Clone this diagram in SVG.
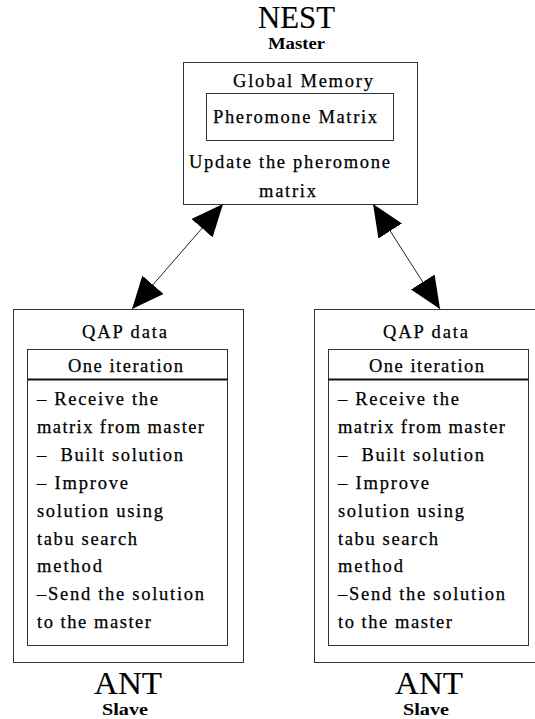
<svg xmlns="http://www.w3.org/2000/svg" width="535" height="719" viewBox="0 0 535 719">
<defs>
<style>
.box{fill:none;stroke:#333;stroke-width:1}
.hdr{stroke:#111;stroke-width:2}
.t{font-family:"Liberation Serif","Times New Roman","DejaVu Serif",serif;fill:#000;stroke:#000;stroke-width:0.25}
.b{font-size:18.5px}
.big{font-size:31px;stroke-width:0.15}
.sub{font-size:16px;font-weight:bold;stroke-width:0}
.con{stroke:#222;stroke-width:1;fill:none}
</style>
<marker id="ah" markerUnits="userSpaceOnUse" markerWidth="32" markerHeight="28" refX="32" refY="14" orient="auto-start-reverse" viewBox="0 0 32 28">
<path d="M0,0 L32,14 L0,28 z" fill="#000"/>
</marker>
</defs>
<rect width="535" height="719" fill="#fff"/>

<g id="nest">
<text class="t big" x="258" y="28" textLength="77" lengthAdjust="spacingAndGlyphs">NEST</text>
<text class="t sub" x="268" y="48.5" textLength="57" lengthAdjust="spacingAndGlyphs">Master</text>
<rect class="box" x="183.5" y="62.5" width="234" height="142"/>
<text class="t b" x="233" y="87" textLength="140" lengthAdjust="spacing">Global Memory</text>
<g id="pheromone-matrix">
<rect class="box" x="206.5" y="93.5" width="187" height="47"/>
<text class="t b" x="213" y="123" textLength="164" lengthAdjust="spacing">Pheromone Matrix</text>
</g>
<text class="t b" x="189" y="168" textLength="201" lengthAdjust="spacing">Update the pheromone</text>
<text class="t b" x="259" y="197" textLength="57" lengthAdjust="spacing">matrix</text>
</g>

<g id="ant-left">
<rect class="box" x="13.5" y="309.5" width="230" height="353"/>
<text class="t b" x="82" y="338" textLength="85" lengthAdjust="spacing">QAP data</text>
<rect class="box" x="27.5" y="349.5" width="200" height="296"/>
<line class="hdr" x1="27.5" y1="379.5" x2="227.5" y2="379.5"/>
<text class="t b" x="68" y="372" textLength="115" lengthAdjust="spacing">One iteration</text>
<text class="t b" x="37" y="405" textLength="121" lengthAdjust="spacing">– Receive the</text>
<text class="t b" x="37" y="433" textLength="167" lengthAdjust="spacing">matrix from master</text>
<text class="t b" x="37" y="461" textLength="146" lengthAdjust="spacing" xml:space="preserve">–  Built solution</text>
<text class="t b" x="37" y="489" textLength="91" lengthAdjust="spacing">– Improve</text>
<text class="t b" x="37" y="517" textLength="126" lengthAdjust="spacing">solution using</text>
<text class="t b" x="37" y="545" textLength="100" lengthAdjust="spacing">tabu search</text>
<text class="t b" x="37" y="572" textLength="65" lengthAdjust="spacing">method</text>
<text class="t b" x="37" y="600" textLength="167" lengthAdjust="spacing">–Send the solution</text>
<text class="t b" x="37" y="628" textLength="114" lengthAdjust="spacing">to the master</text>
<text class="t big" x="94" y="693.5" textLength="68" lengthAdjust="spacingAndGlyphs">ANT</text>
<text class="t sub" x="102" y="715" textLength="46" lengthAdjust="spacingAndGlyphs">Slave</text>
</g>

<g id="ant-right">
<rect class="box" x="314.5" y="309.5" width="230" height="353"/>
<text class="t b" x="383" y="338" textLength="85" lengthAdjust="spacing">QAP data</text>
<rect class="box" x="328.5" y="349.5" width="200" height="296"/>
<line class="hdr" x1="328.5" y1="379.5" x2="528.5" y2="379.5"/>
<text class="t b" x="369" y="372" textLength="115" lengthAdjust="spacing">One iteration</text>
<text class="t b" x="338" y="405" textLength="121" lengthAdjust="spacing">– Receive the</text>
<text class="t b" x="338" y="433" textLength="167" lengthAdjust="spacing">matrix from master</text>
<text class="t b" x="338" y="461" textLength="146" lengthAdjust="spacing" xml:space="preserve">–  Built solution</text>
<text class="t b" x="338" y="489" textLength="91" lengthAdjust="spacing">– Improve</text>
<text class="t b" x="338" y="517" textLength="126" lengthAdjust="spacing">solution using</text>
<text class="t b" x="338" y="545" textLength="100" lengthAdjust="spacing">tabu search</text>
<text class="t b" x="338" y="572" textLength="65" lengthAdjust="spacing">method</text>
<text class="t b" x="338" y="600" textLength="167" lengthAdjust="spacing">–Send the solution</text>
<text class="t b" x="338" y="628" textLength="114" lengthAdjust="spacing">to the master</text>
<text class="t big" x="395" y="693.5" textLength="68" lengthAdjust="spacingAndGlyphs">ANT</text>
<text class="t sub" x="403" y="715" textLength="46" lengthAdjust="spacingAndGlyphs">Slave</text>
</g>

<g id="connectors">
<line class="con" x1="223" y1="204" x2="132" y2="309" marker-start="url(#ah)" marker-end="url(#ah)"/>
<line class="con" x1="373" y1="204" x2="440" y2="309" marker-start="url(#ah)" marker-end="url(#ah)"/>
</g>
</svg>
